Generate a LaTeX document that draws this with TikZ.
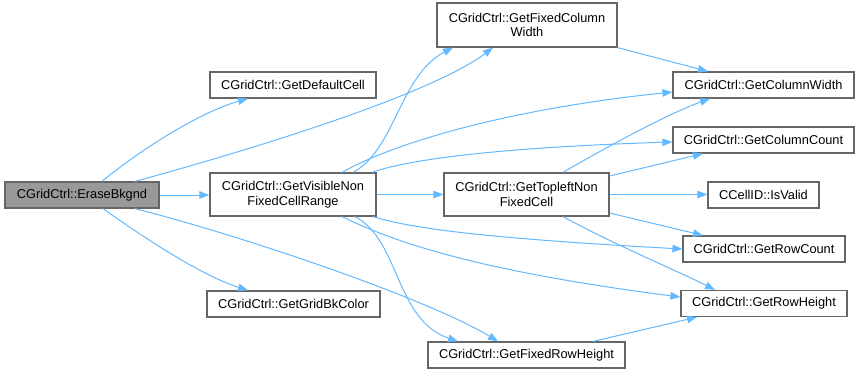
\documentclass[tikz,border=0pt]{standalone}
\usepackage{fontspec}
\setmainfont{Liberation Sans}
\usetikzlibrary{arrows.meta,calc}
\definecolor{edgeblue}{HTML}{63B8FF}
\definecolor{boxline}{HTML}{666666}
\definecolor{rootfill}{HTML}{999999}
\begin{document}
\begin{tikzpicture}[x=1pt,y=-1pt,
  fn/.style={draw=boxline, line width=1.2pt, fill=white, inner sep=0pt,
    minimum height=26pt, align=center,
    font=\fontsize{12.8}{14.5}\selectfont},
  fn2/.style={fn, minimum height=43pt},
  root/.style={fn, fill=rootfill},
  call/.style={draw=edgeblue, line width=1pt,
    -{Triangle[length=10pt,width=7.5pt]}}]
\useasboundingbox (0,0) rectangle (860,373);

% functions
\node[root, minimum width=154pt] (E)   at (82,195)    {CGridCtrl::EraseBkgnd};
\node[fn,  minimum width=166pt]  (D)   at (293,85)    {CGridCtrl::GetDefaultCell};
\node[fn2, minimum width=166pt]  (V)   at (293,194.5) {CGridCtrl::GetVisibleNon\\FixedCellRange};
\node[fn,  minimum width=173pt]  (G)   at (293.5,304) {CGridCtrl::GetGridBkColor};
\node[fn,  minimum width=180pt, minimum height=44pt] (FCW) at (527,25) {CGridCtrl::GetFixedColumn\\Width};
\node[fn2, minimum width=165pt]  (T)   at (526.5,194.5) {CGridCtrl::GetTopleftNon\\FixedCell};
\node[fn,  minimum width=197pt]  (F)   at (526.5,355) {CGridCtrl::GetFixedRowHeight};
\node[fn,  minimum width=181pt]  (CW)  at (763.5,85)  {CGridCtrl::GetColumnWidth};
\node[fn,  minimum width=181pt]  (CC)  at (763.5,140) {CGridCtrl::GetColumnCount};
\node[fn,  minimum width=111pt]  (IV)  at (763.5,195) {CCellID::IsValid};
\node[fn,  minimum width=162pt]  (RC)  at (764,249)   {CGridCtrl::GetRowCount};
\node[fn,  minimum width=166pt]  (RH)  at (764,303.5) {CGridCtrl::GetRowHeight};

% calls made by EraseBkgnd
\draw[call] ($(E.north)+(20,0)$) .. controls (140,150) and (200,112) .. ($(D.south)+(-45,0)$);
\draw[call] ($(E.north)+(53,0)$) .. controls (250,150) and (430,95) .. ($(FCW.south)+(-34,0)$);
\draw[call] (E.east) -- (E.east -| V.west);
\draw[call] ($(E.south)+(21,0)$) .. controls (140,235) and (200,275) .. ($(G.north)+(-45.5,0)$);
\draw[call] ($(E.south)+(53,0)$) .. controls (250,238) and (430,300) .. ($(F.north)+(-28.5,0)$);

% calls made by GetVisibleNonFixedCellRange
\draw[call] ($(V.north)+(60,0)$) .. controls (395,150) and (400,75) .. ($(FCW.south)+(-74,0)$);
\draw[call] ($(V.north)+(49,0)$) .. controls (390,145) and (500,110) .. ($(CW.west)+(0,7)$);
\draw[call] ($(V.north)+(79,0)$) .. controls (400,162) and (480,148) .. ($(CC.west)+(0,2)$);
\draw[call] (V.east) -- (T.west);
\draw[call] ($(V.south)+(80,0)$) .. controls (410,228) and (480,238) .. (RC.west);
\draw[call] ($(V.south)+(49,0)$) .. controls (390,240) and (470,270) .. ($(RH.west)+(0,-6.5)$);
\draw[call] ($(V.south)+(62,0)$) .. controls (400,240) and (395,320) .. ($(F.north)+(-68.5,0)$);

% calls made by GetTopleftNonFixedCell
\draw[call] ($(T.north)+(36.5,0)$) .. controls (610,145) and (670,113) .. ($(CW.south)+(-53.5,0)$);
\draw[call] ($(T.east)+(0,-18.5)$) -- ($(CC.south)+(-60.5,0)$);
\draw[call] (T.east) -- (T.east -| IV.west);
\draw[call] ($(T.east)+(0,18.5)$) -- ($(RC.north)+(-61,0)$);
\draw[call] ($(T.south)+(36.5,0)$) .. controls (615,245) and (680,272) .. ($(RH.north)+(-49,0)$);

% remaining calls
\draw[call] ($(F.north)+(66.5,0)$) -- ($(RH.south)+(-67,0)$);
\draw[call] (FCW.south east) -- ($(CW.north)+(-55.5,0)$);
\end{tikzpicture}
\end{document}
